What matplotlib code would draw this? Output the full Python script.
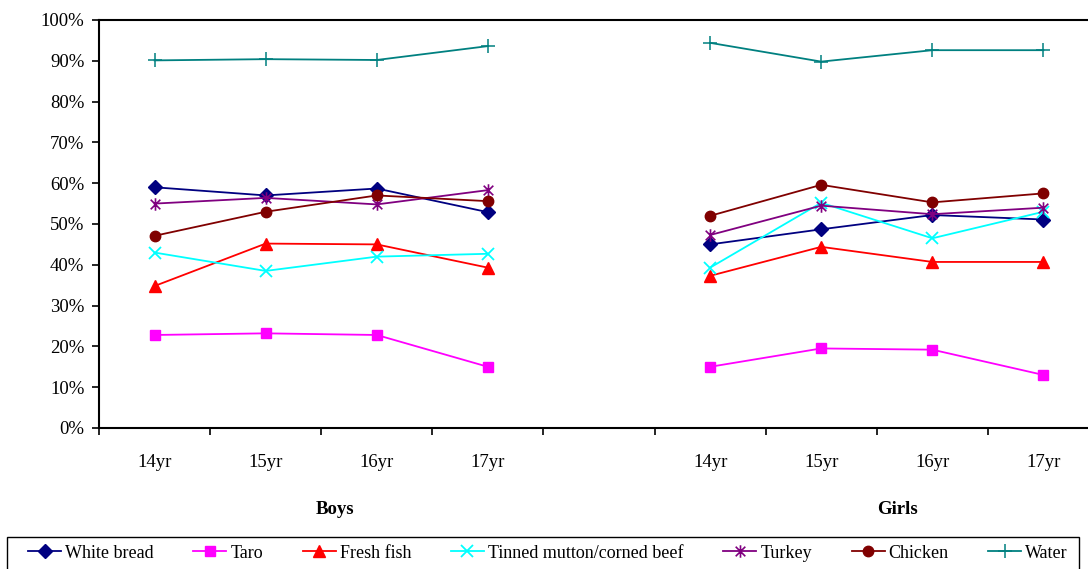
import matplotlib
matplotlib.use("Agg")
import matplotlib.pyplot as plt
from matplotlib.path import Path
from matplotlib.patches import Rectangle
from matplotlib.ticker import FixedLocator, FuncFormatter

plt.rcParams['font.family'] = ['Liberation Serif', 'DejaVu Serif']

# ---- data ----
age_labels = ["14yr", "15yr", "16yr", "17yr"]
groups = ["Boys", "Girls"]
series_names = ["White bread", "Taro", "Fresh fish", "Tinned mutton/corned beef",
                "Turkey", "Chicken", "Water"]

white_bread_boys = [59.0, 57.0, 58.7, 52.9]
white_bread_girls = [45.0, 48.7, 52.2, 51.1]
taro_boys = [22.8, 23.2, 22.8, 15.0]
taro_girls = [15.0, 19.5, 19.2, 13.0]
fresh_fish_boys = [34.8, 45.2, 45.0, 39.3]
fresh_fish_girls = [37.3, 44.4, 40.7, 40.7]
tinned_boys = [43.0, 38.5, 42.0, 42.7]
tinned_girls = [39.3, 55.2, 46.5, 53.0]
turkey_boys = [55.0, 56.4, 54.8, 58.3]
turkey_girls = [47.3, 54.5, 52.4, 54.0]
chicken_boys = [47.1, 53.0, 57.0, 55.6]
chicken_girls = [52.0, 59.6, 55.3, 57.5]
water_boys = [90.1, 90.4, 90.2, 93.6]
water_girls = [94.4, 89.8, 92.6, 92.6]

# ---- styles ----
asterisk = Path([(-1, -1), (1, 1), (-1, 1), (1, -1), (0, -1.3), (0, 1.3)],
                [Path.MOVETO, Path.LINETO, Path.MOVETO, Path.LINETO, Path.MOVETO, Path.LINETO])

styles = [
    dict(color="#000080", marker="D", ms=7),
    dict(color="#FF00FF", marker="s", ms=7.5),
    dict(color="#FF0000", marker="^", ms=8.5),
    dict(color="#00FFFF", marker="x", ms=8, mew=1.3),
    dict(color="#800080", marker=asterisk, ms=9, mew=1.2),
    dict(color="#800000", marker="o", ms=7.5),
    dict(color="#008080", marker="+", ms=10, mew=1.1),
]

data = [
    (white_bread_boys, white_bread_girls),
    (taro_boys, taro_girls),
    (fresh_fish_boys, fresh_fish_girls),
    (tinned_boys, tinned_girls),
    (turkey_boys, turkey_girls),
    (chicken_boys, chicken_girls),
    (water_boys, water_girls),
]

W, H = 1088, 569
fig = plt.figure(figsize=(W / 100, H / 100), dpi=100)
left_px, right_px, top_px, bot_px = 99, 1099, 20, 428
ax = fig.add_axes([left_px / W, 1 - bot_px / H, (right_px - left_px) / W, (bot_px - top_px) / H])

n_age = len(age_labels)
boys_x = list(range(n_age))
girls_x = [n_age + 1 + i for i in range(n_age)]

handles = []
for name, (b, g), st in zip(series_names, data, styles):
    kw = dict(color=st["color"], marker=st["marker"], markersize=st["ms"],
              markeredgewidth=st.get("mew", 1.0), lw=1.3)
    h, = ax.plot(boys_x, b, label=name, **kw)
    ax.plot(girls_x, g, **kw)
    handles.append(h)

ax.set_xlim(-0.5, 2 * n_age + 0.5)
ax.set_ylim(0, 100)
ax.yaxis.set_major_locator(FixedLocator(list(range(0, 101, 10))))
ax.yaxis.set_major_formatter(FuncFormatter(lambda v, p: f"{int(round(v))}%"))

ax.set_xticks(boys_x + girls_x)
ax.set_xticklabels(age_labels + age_labels)
ax.set_xticks([i - 0.5 for i in range(2 * n_age + 2)], minor=True)
ax.tick_params(axis='x', which='major', length=0, pad=19, labelsize=13.5)
ax.tick_params(axis='x', which='minor', length=5, width=1.2, direction='out')
ax.tick_params(axis='y', which='major', length=5, width=1.2, direction='out', labelsize=13.5, pad=5.5)

for s in ax.spines.values():
    s.set_linewidth(1.5)
    s.set_color("black")

# group labels
fig.text(335 / W, 1 - 510 / H, groups[0], ha='center', va='center', fontsize=13.5, fontweight='bold')
fig.text(898 / W, 1 - 510 / H, groups[1], ha='center', va='center', fontsize=13.5, fontweight='bold')

# legend frame drawn separately
fig.patches.append(Rectangle((7 / W, 1 - 575 / H), (1079 - 7) / W, (575 - 537) / H,
                             transform=fig.transFigure, fill=False, edgecolor='black', lw=1.0))

leg = fig.legend(handles=handles, labels=series_names, ncol=7, loc='center left',
                 bbox_to_anchor=(28 / W, 1 - 553 / H), bbox_transform=fig.transFigure,
                 borderaxespad=0, borderpad=0, frameon=False,
                 fontsize=13, handlelength=1.83, handletextpad=0.22, columnspacing=2.2,
                 markerscale=1.0)

fig.savefig("out.png", dpi=100)
